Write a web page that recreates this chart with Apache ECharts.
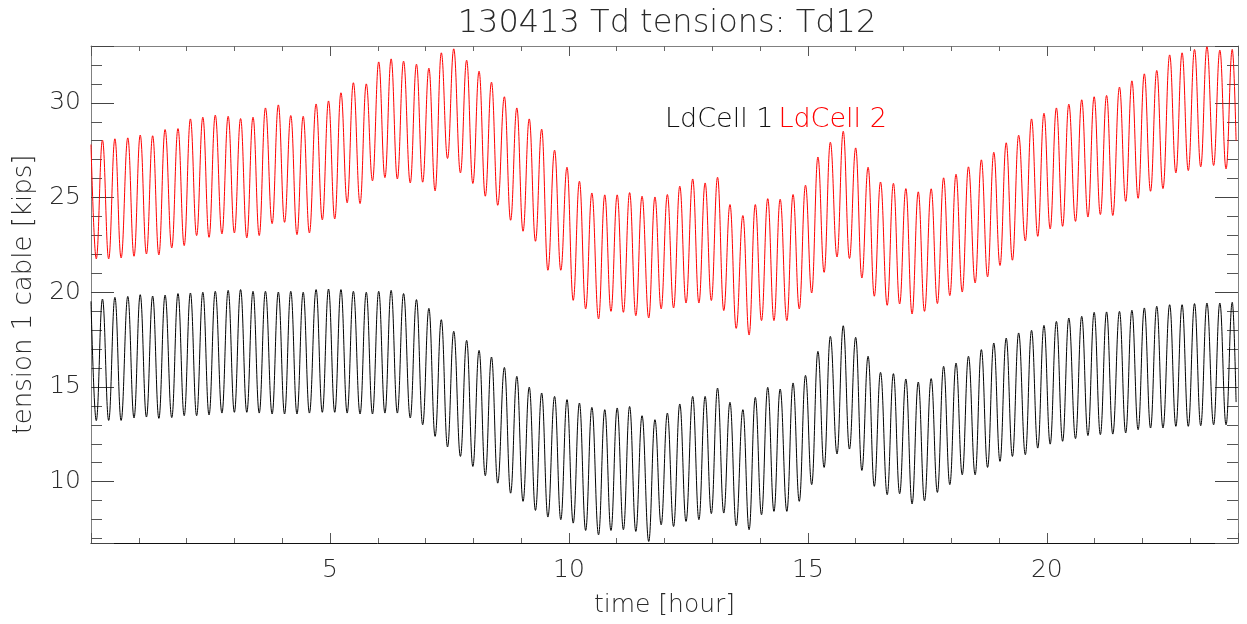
<!DOCTYPE html>
<html>
<head>
<meta charset="utf-8">
<script src="https://cdn.jsdelivr.net/npm/echarts@6/dist/echarts.min.js"></script>
<style>
html,body{margin:0;padding:0;background:#fff;}
#chart{width:1247px;height:624px;}
</style>
</head>
<body>
<div id="chart"></div>
<script>
// ---- data (time in hours, tension in kips) ----
const seriesNames = ['LdCell 1', 'LdCell 2'];
const startTime = 0.0;
const endTime = 23.96;

// times of each oscillation crest and of the trough that precedes it
const peakTimes = [0.24,0.50,0.77,1.03,1.29,1.55,1.82,2.08,2.34,2.60,2.87,3.13,3.39,3.65,3.92,4.18,4.44,4.71,4.97,5.23,5.49,5.76,6.02,6.28,6.54,6.81,7.07,7.33,7.59,7.86,8.12,8.38,8.65,8.91,9.17,9.43,9.70,9.96,10.22,10.48,10.75,11.01,11.27,11.53,11.80,12.06,12.32,12.59,12.85,13.11,13.37,13.64,13.90,14.16,14.42,14.69,14.95,15.21,15.47,15.74,16.00,16.26,16.52,16.79,17.05,17.31,17.58,17.84,18.10,18.36,18.63,18.89,19.15,19.41,19.68,19.94,20.20,20.46,20.73,20.99,21.25,21.52,21.78,22.04,22.30,22.57,22.83,23.09,23.35,23.62,23.88];
const troughTimes = [0.11,0.37,0.63,0.90,1.16,1.42,1.69,1.95,2.21,2.47,2.74,3.00,3.26,3.52,3.79,4.05,4.31,4.57,4.84,5.10,5.36,5.63,5.89,6.15,6.41,6.68,6.94,7.20,7.46,7.73,7.99,8.25,8.51,8.78,9.04,9.30,9.56,9.83,10.09,10.35,10.62,10.88,11.14,11.40,11.67,11.93,12.19,12.45,12.72,12.98,13.24,13.50,13.77,14.03,14.29,14.56,14.82,15.08,15.34,15.61,15.87,16.13,16.39,16.66,16.92,17.18,17.44,17.71,17.97,18.23,18.50,18.76,19.02,19.28,19.55,19.81,20.07,20.33,20.60,20.86,21.12,21.38,21.65,21.91,22.17,22.43,22.70,22.96,23.22,23.49,23.75];

// LdCell 1 (black)
const ldCell1Peaks = [19.64,19.73,19.78,19.87,19.80,19.85,19.93,19.96,20.00,20.05,20.10,20.14,20.05,20.05,20.01,20.05,20.00,20.14,20.17,20.14,20.05,20.00,20.05,20.10,19.93,19.61,19.15,18.55,17.94,17.46,16.93,16.58,16.03,15.56,14.99,14.68,14.50,14.33,14.15,13.92,13.80,13.89,13.97,13.48,13.27,13.62,14.10,14.50,14.50,14.94,14.19,13.80,14.45,14.98,14.89,15.21,15.61,16.88,17.67,18.23,17.62,16.62,15.77,15.70,15.42,15.26,15.44,16.09,16.26,16.62,16.97,17.32,17.58,17.85,17.99,18.25,18.46,18.64,18.73,18.94,18.96,18.99,19.05,19.17,19.26,19.34,19.34,19.40,19.43,19.43,19.47];
const ldCell1Troughs = [13.22,13.23,13.23,13.36,13.41,13.34,13.38,13.48,13.48,13.52,13.62,13.66,13.66,13.62,13.57,13.57,13.57,13.62,13.66,13.66,13.62,13.57,13.57,13.62,13.62,13.36,13.00,12.39,11.83,11.33,10.80,10.31,9.92,9.39,8.96,8.48,8.13,7.99,7.81,7.42,7.19,7.42,7.46,7.37,6.84,7.72,7.63,7.90,7.99,8.31,8.34,7.67,7.46,8.25,8.43,8.43,8.96,9.84,10.75,11.46,11.72,10.59,9.75,9.31,9.36,8.82,8.99,9.43,9.84,10.36,10.36,10.75,11.07,11.33,11.42,11.77,11.98,12.13,12.27,12.43,12.48,12.51,12.57,12.74,12.83,12.83,12.92,12.92,12.95,13.00,13.00];
const ldCell1Ends = [19.52, 14.2];

// LdCell 2 (red)
const ldCell2Peaks = [28.03,28.10,28.15,28.30,28.26,28.59,28.64,29.15,29.24,29.35,29.29,29.17,29.24,29.73,29.89,29.33,29.29,29.94,30.10,30.53,31.06,31.00,32.16,32.32,32.20,32.04,31.83,32.64,32.85,32.25,31.67,31.09,30.32,29.73,29.15,28.61,27.50,26.60,25.86,25.24,25.14,25.14,25.26,25.07,25.03,25.16,25.60,25.98,25.77,26.07,24.63,24.05,24.63,24.94,24.91,25.16,25.65,27.14,27.92,28.50,27.62,26.60,25.82,25.75,25.47,25.30,25.46,26.04,26.23,26.62,26.99,27.39,27.89,28.29,29.15,29.45,29.73,29.93,30.16,30.32,30.39,30.83,31.16,31.53,31.71,32.53,32.64,32.82,32.96,32.78,32.82];
const ldCell2Troughs = [21.76,21.76,21.81,21.90,22.02,21.97,22.34,22.46,22.99,22.90,23.08,23.13,22.87,22.99,23.62,23.69,23.04,23.13,23.82,23.87,24.72,24.68,25.88,26.05,25.98,25.77,25.81,25.35,27.06,26.30,25.74,25.07,24.59,23.80,23.22,22.69,21.16,21.16,19.57,19.12,18.59,18.99,18.94,18.76,18.64,19.12,19.17,19.43,19.43,19.56,19.03,18.09,17.74,18.50,18.50,18.50,19.12,19.96,21.05,21.86,21.78,20.75,19.79,19.31,19.38,18.85,18.99,19.40,19.82,20.01,20.49,20.81,21.41,21.69,22.71,22.95,23.34,23.48,23.74,23.97,24.10,24.05,24.80,24.96,25.33,25.47,26.30,26.42,26.62,26.69,26.51];
const ldCell2Ends = [27.8, 28.0];

const xTickLabels = ['5', '10', '15', '20'];
const yTickLabels = ['10', '15', '20', '25', '30'];

// ---- build [time, value] pairs (start, trough, crest, trough, crest, ..., end) ----
function buildSeries(troughs, peaks, ends) {
  const pts = [[startTime, ends[0]]];
  for (let i = 0; i < peaks.length; i++) {
    pts.push([troughTimes[i], troughs[i]]);
    pts.push([peakTimes[i], peaks[i]]);
  }
  pts.push([endTime, ends[1]]);
  return pts;
}
const data1 = buildSeries(ldCell1Troughs, ldCell1Peaks, ldCell1Ends);
const data2 = buildSeries(ldCell2Troughs, ldCell2Peaks, ldCell2Ends);

const FONT = 'DejaVu Sans';
const TXT = '#2a2a2a';
const chart = echarts.init(document.getElementById('chart'), null, {renderer: 'canvas'});

function xAxisDef(pos) {
  const bottom = pos === 'bottom';
  return {
    type: 'value', position: pos, min: 0, max: 24, interval: 5,
    axisLine: {show: true, onZero: false, lineStyle: {color: bottom ? '#111' : '#808080', width: 1}},
    axisTick: {show: true, inside: true, length: 10, lineStyle: {color: '#555'}},
    minorTick: {show: true, splitNumber: 5, length: 5, lineStyle: {color: '#666'}},
    axisLabel: {
      show: bottom, margin: 15, fontSize: 25, color: TXT, fontFamily: FONT, fontWeight: 200,
      showMinLabel: false, showMaxLabel: false,
      formatter: v => xTickLabels.includes(String(v)) ? String(v) : ''
    },
    splitLine: {show: false},
    name: bottom ? 'time [hour]' : '',
    nameLocation: 'middle', nameGap: 50,
    nameTextStyle: {fontSize: 25, color: TXT, fontFamily: FONT, fontWeight: 200}
  };
}
function yAxisDef(pos) {
  const left = pos === 'left';
  return {
    type: 'value', position: pos, min: 6.76, max: 33, splitNumber: 5,
    axisLine: {show: true, onZero: false, lineStyle: {color: '#808080', width: 1}},
    axisTick: {show: true, inside: true, length: 23, lineStyle: {color: '#444'}},
    minorTick: {show: true, splitNumber: 5, length: 11, lineStyle: {color: '#555'}},
    axisLabel: {
      show: left, margin: 10, fontSize: 25, color: TXT, fontFamily: FONT, fontWeight: 200,
      showMinLabel: false, showMaxLabel: false,
      formatter: v => yTickLabels.includes(String(v)) ? String(v) : ''
    },
    splitLine: {show: false},
    name: left ? 'tension 1 cable [kips]' : '',
    nameLocation: 'middle', nameGap: 54,
    nameTextStyle: {fontSize: 26, color: TXT, fontFamily: FONT, fontWeight: 200}
  };
}

chart.setOption({
  animation: false,
  backgroundColor: '#fff',
  title: {
    text: '130413 Td tensions: Td12',
    left: 662, top: 3, textAlign: 'center',
    textStyle: {fontSize: 32, fontWeight: 200, color: TXT, fontFamily: FONT}
  },
  legend: {
    data: [
      {name: seriesNames[0], textStyle: {color: '#111'}},
      {name: seriesNames[1], textStyle: {color: '#ff0000'}}
    ],
    icon: 'none', itemWidth: 0, itemGap: 0,
    left: 655, top: 101,
    textStyle: {fontSize: 27, fontFamily: FONT, fontWeight: 200},
    selectedMode: false
  },
  grid: {left: 91, right: 9, top: 46, bottom: 81, containLabel: false},
  xAxis: [xAxisDef('bottom'), xAxisDef('top')],
  yAxis: [yAxisDef('left'), yAxisDef('right')],
  series: [
    {
      name: seriesNames[0], type: 'line', data: data1, showSymbol: false,
      smooth: 0.42, smoothMonotone: 'x', color: '#000',
      lineStyle: {color: '#000', width: 1}, z: 3
    },
    {
      name: seriesNames[1], type: 'line', data: data2, showSymbol: false,
      smooth: 0.42, smoothMonotone: 'x', color: '#ff0000',
      lineStyle: {color: '#ff0000', width: 1}, z: 3
    }
  ]
});
</script>
</body>
</html>
